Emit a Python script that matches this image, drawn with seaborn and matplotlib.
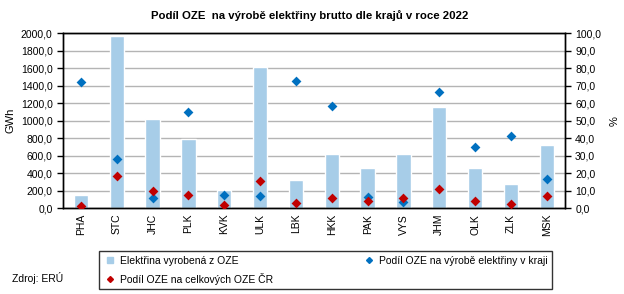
import numpy as np
import pandas as pd
import seaborn as sns
import matplotlib.pyplot as plt
from matplotlib.ticker import FuncFormatter, FixedLocator
from matplotlib.lines import Line2D

# Data
regions = ['PHA', 'STC', 'JHC', 'PLK', 'KVK', 'ULK', 'LBK', 'HKK', 'PAK', 'VYS', 'JHM', 'OLK', 'ZLK', 'MSK']
gwh_oze = [150, 1965, 1020, 795, 205, 1610, 320, 615, 455, 625, 1160, 455, 275, 720]
share_region = [72.2, 28.2, 6.1, 55.0, 7.6, 7.0, 72.7, 58.5, 6.6, 3.8, 66.5, 35.0, 41.3, 16.7]
share_total = [1.3, 18.6, 9.9, 7.8, 2.1, 15.6, 3.0, 5.9, 4.2, 6.1, 11.0, 4.2, 2.6, 7.2]

BAR = '#a7cde8'
BLUE = '#0070c0'
RED = '#c00000'

df = pd.DataFrame({'kraj': regions, 'gwh': gwh_oze,
                   'podil_kraj': share_region, 'podil_cr': share_total})

sns.set_style('white')
plt.rcParams['font.family'] = ['Liberation Sans', 'DejaVu Sans']
plt.rcParams['text.color'] = 'black'
plt.rcParams['axes.labelcolor'] = 'black'
plt.rcParams['xtick.color'] = 'black'
plt.rcParams['ytick.color'] = 'black'

fig = plt.figure(figsize=(6.24, 2.94), dpi=100)
ax = fig.add_axes([0.101, 0.2915, 0.804, 0.5955])

sns.barplot(data=df, x='kraj', y='gwh', ax=ax, color=BAR, width=0.4,
            saturation=1, zorder=2)
ax2 = ax.twinx()
sns.stripplot(data=df, x='kraj', y='podil_kraj', ax=ax2, marker='D', jitter=False,
              color=BLUE, size=5, zorder=4)
sns.stripplot(data=df, x='kraj', y='podil_cr', ax=ax2, marker='D', jitter=False,
              color=RED, size=5, zorder=4)

n = len(regions)
ax.set_xlim(-0.5, n - 0.5)
ax.set_ylim(0, 2000)
ax2.set_ylim(0, 100)
ax.set_yticks(np.arange(0, 2001, 200))
ax2.set_yticks(np.arange(0, 101, 10))

fmt = FuncFormatter(lambda v, p: f"{v:.1f}".replace('.', ','))
ax.yaxis.set_major_formatter(fmt)
ax2.yaxis.set_major_formatter(fmt)

ax.yaxis.grid(True, color='#b4b4b4', linewidth=1, zorder=0)
ax.set_axisbelow(True)

for a in (ax, ax2):
    for s in a.spines.values():
        s.set_color('black')
        s.set_linewidth(1)
    a.set_xlabel('')

ax.set_xticks(range(n))
ax.set_xticklabels(regions, rotation=90, fontsize=7.5)
ax.xaxis.set_minor_locator(FixedLocator(np.arange(-0.5, n, 1)))
ax.tick_params(axis='x', which='major', length=0, pad=4)
ax.tick_params(axis='x', which='minor', length=4, width=1, color='black', direction='out')
ax.tick_params(axis='y', length=4, width=1, color='black', direction='out', labelsize=7.5, left=True)
ax2.tick_params(axis='y', length=4, width=1, color='black', direction='out', labelsize=7.5, right=True)
ax2.tick_params(axis='x', length=0, labelbottom=False)

ax.set_ylabel('GWh', fontsize=8, labelpad=4)
ax2.set_ylabel('%', fontsize=8, labelpad=6)

fig.text(0.497, 0.946, 'Podíl OZE  na výrobě elektřiny brutto dle krajů v roce 2022',
         fontsize=8.2, fontweight='bold', ha='center', va='center')

handles = [
    Line2D([], [], marker='s', linestyle='none', color=BAR, markersize=5),
    Line2D([], [], marker='D', linestyle='none', color=RED, markersize=3),
    Line2D([], [], marker='D', linestyle='none', color=BLUE, markersize=3),
]
labels = ['Elektřina vyrobená z OZE', 'Podíl OZE na celkových OZE ČR',
          'Podíl OZE na výrobě elektřiny v kraji']
leg = fig.legend(handles, labels, loc='lower left', ncol=2, mode='expand',
                 bbox_to_anchor=(0.159, 0.017, 0.726, 0.139), fontsize=7.5,
                 frameon=True, fancybox=False, borderaxespad=0,
                 handlelength=1.2, handletextpad=0.4, labelspacing=0.7)
leg.get_frame().set_edgecolor('black')
leg.get_frame().set_linewidth(1)

fig.text(0.019, 0.04, 'Zdroj: ERÚ', fontsize=7.5)

fig.savefig('out.png', dpi=100)
